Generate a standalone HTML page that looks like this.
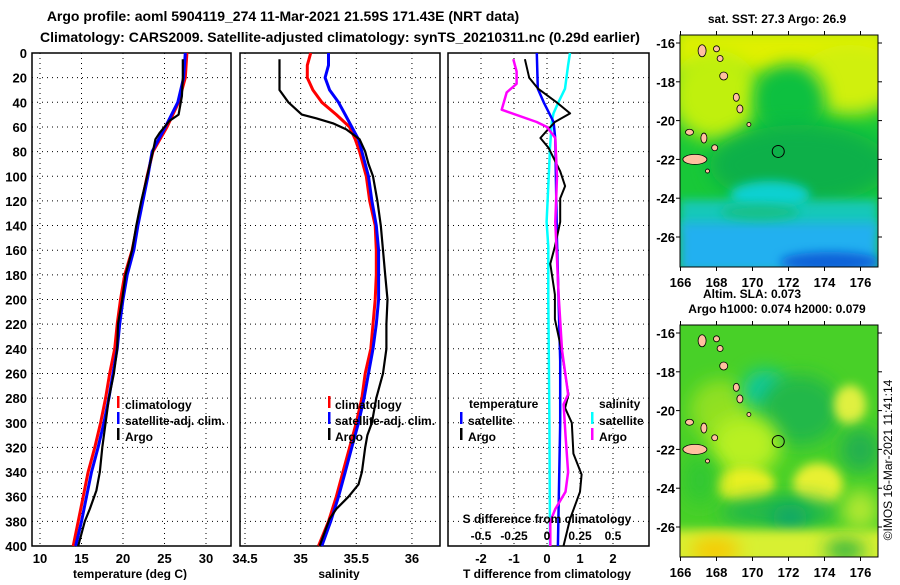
<!DOCTYPE html>
<html><head><meta charset="utf-8"><style>
body{margin:0;background:#fff;width:900px;height:580px;overflow:hidden}
svg text{font-family:"Liberation Sans",sans-serif;font-weight:bold;fill:#000}
</style></head><body>
<svg id="c" width="900" height="580" xmlns="http://www.w3.org/2000/svg">
<defs>
<filter id="bl" x="-50%" y="-50%" width="200%" height="200%"><feGaussianBlur stdDeviation="9"/></filter>
<filter id="bl2" x="-50%" y="-50%" width="200%" height="200%"><feGaussianBlur stdDeviation="5"/></filter>
<clipPath id="m1c"><rect x="680" y="35" width="198" height="232"/></clipPath>
<clipPath id="m2c"><rect x="680" y="325" width="198" height="232"/></clipPath>
</defs>
<text x="283" y="21" font-size="14" text-anchor="middle">Argo profile: aoml 5904119_274 11-Mar-2021 21.59S 171.43E (NRT data)</text>
<text x="340" y="42" font-size="14" text-anchor="middle">Climatology: CARS2009. Satellite-adjusted climatology: synTS_20210311.nc (0.29d earlier)</text>

<g clip-path="url(#m1c)">
<rect x="680" y="35" width="198" height="232" fill="#18c838"/>
<rect x="670" y="25" width="220" height="50" fill="#e0f000" filter="url(#bl)"/>
<ellipse cx="715" cy="95" rx="45" ry="45" fill="#c0f010" filter="url(#bl)"/>
<ellipse cx="850" cy="80" rx="50" ry="35" fill="#d0f010" filter="url(#bl)"/>
<ellipse cx="790" cy="100" rx="35" ry="35" fill="#10c040" filter="url(#bl)"/>
<ellipse cx="800" cy="165" rx="90" ry="40" fill="#10b048" filter="url(#bl)"/>
<rect x="680" y="200" width="198" height="30" fill="#18c8b8" filter="url(#bl2)"/>
<rect x="680" y="222" width="198" height="50" fill="#20b0f0" filter="url(#bl2)"/>
<ellipse cx="770" cy="195" rx="40" ry="14" fill="#10d0d0" filter="url(#bl2)"/>
<ellipse cx="760" cy="212" rx="40" ry="8" fill="#18c088" filter="url(#bl2)"/>
<ellipse cx="830" cy="262" rx="50" ry="10" fill="#1060d8" filter="url(#bl2)"/>
</g>
<g clip-path="url(#m2c)">
<rect x="680" y="325" width="198" height="232" fill="#48d028"/>
<ellipse cx="720" cy="410" rx="30" ry="30" fill="#90e020" filter="url(#bl)"/>
<ellipse cx="765" cy="390" rx="22" ry="20" fill="#10c8a0" filter="url(#bl)"/>
<ellipse cx="800" cy="410" rx="40" ry="35" fill="#20b848" filter="url(#bl)"/>
<ellipse cx="850" cy="405" rx="16" ry="20" fill="#e0f040" filter="url(#bl2)"/>
<ellipse cx="860" cy="450" rx="20" ry="22" fill="#20b050" filter="url(#bl)"/>
<ellipse cx="745" cy="445" rx="35" ry="30" fill="#b8f020" filter="url(#bl)"/>
<ellipse cx="745" cy="485" rx="30" ry="18" fill="#e8f020" filter="url(#bl2)"/>
<ellipse cx="818" cy="485" rx="25" ry="22" fill="#e8f030" filter="url(#bl2)"/>
<ellipse cx="780" cy="512" rx="60" ry="16" fill="#20b848" filter="url(#bl)"/>
<ellipse cx="790" cy="518" rx="18" ry="14" fill="#10a868" filter="url(#bl)"/>
<rect x="670" y="530" width="220" height="35" fill="#d8f030" filter="url(#bl2)"/>
<ellipse cx="715" cy="550" rx="25" ry="12" fill="#f8c800" filter="url(#bl)"/>
<ellipse cx="845" cy="550" rx="20" ry="10" fill="#20b040" filter="url(#bl)"/>
<ellipse cx="700" cy="480" rx="18" ry="25" fill="#30c830" filter="url(#bl)"/>
<ellipse cx="860" cy="510" rx="18" ry="20" fill="#b0e830" filter="url(#bl)"/>
</g>
<g id="maps"></g>
<text x="777" y="23" font-size="12" text-anchor="middle">sat. SST: 27.3 Argo: 26.9</text>
<text x="752" y="298" font-size="12" text-anchor="middle">Altim. SLA: 0.073</text>
<text x="777" y="313" font-size="12" text-anchor="middle">Argo h1000: 0.074 h2000: 0.079</text>
<text transform="translate(892,460) rotate(-90)" font-size="12" style="font-weight:normal" text-anchor="middle">©IMOS 16-Mar-2021 11:41:14</text>
</svg>
<script>
// ---------- data ----------
const yTicks=[0,20,40,60,80,100,120,140,160,180,200,220,240,260,280,300,320,340,360,380,400];
const tTicks=[10,15,20,25,30];
const sTicks=[34.5,35,35.5,36];
const dTicks=[-2,-1,0,1,2];
const dsTicks=[-0.5,-0.25,0,0.25,0.5];
const dsTickLabels=["-0.5","-0.25","0","0.25","0.5"];
const stdDepth=[0,20,40,60,80,100,120,140,160,180,200,220,240,260,280,300,320,340,360,380,400];
const climT=[27.7,27.5,26.7,25.3,23.6,22.9,22.3,21.7,21.1,20.2,19.7,19.3,19.0,18.4,17.9,17.3,16.6,15.8,15.2,14.6,14.0];
const satT=[27.5,27.3,26.6,25.1,23.5,23.0,22.4,21.8,21.3,20.5,20.0,19.6,19.3,18.8,18.3,17.7,17.0,16.2,15.6,15.0,14.3];
const argoTDepth=[5,20,35,50,55,65,70,80,100,120,140,160,180,200,220,240,260,280,300,320,340,355,370,380,400];
const argoT=[27.2,27.2,27.1,26.7,25.6,24.4,23.9,23.6,22.9,22.2,21.6,21.1,20.3,19.9,19.4,19.3,18.9,18.3,17.9,17.5,17.2,16.8,16.0,15.4,14.6];
const sDepth=[0,10,20,30,40,50,60,70,80,100,120,140,160,180,200,220,240,260,280,300,320,340,360,380,400];
const climS=[35.09,35.06,35.06,35.11,35.19,35.32,35.44,35.49,35.53,35.59,35.62,35.67,35.68,35.68,35.67,35.65,35.63,35.58,35.55,35.50,35.44,35.38,35.32,35.25,35.16];
const satS=[35.25,35.25,35.22,35.26,35.34,35.40,35.46,35.52,35.55,35.61,35.64,35.68,35.70,35.70,35.70,35.68,35.65,35.61,35.57,35.52,35.46,35.40,35.34,35.27,35.19];
const argoSDepth=[5,30,40,50,53,57,62,70,80,90,100,120,140,160,180,200,220,240,260,280,300,310,320,340,350,360,370,378,400];
const argoS=[34.81,34.81,34.89,35.01,35.14,35.29,35.41,35.53,35.58,35.61,35.65,35.69,35.72,35.74,35.76,35.78,35.77,35.77,35.74,35.68,35.64,35.60,35.58,35.55,35.52,35.43,35.32,35.26,35.17];
const satDTDepth=[0,29,40,56,70,150,250,300,400];
const satDT=[-0.31,-0.28,-0.1,0.2,0.25,0.3,0.4,0.4,0.33];
const argoDTDepth=[5,20,29,40,49,56,63,69,77,96,108,118,137,157,171,196,216,241,269,277,288,300,325,342,356,378,400];
const argoDT=[-0.67,-0.54,-0.27,0.29,0.7,0.24,0,-0.2,0.05,0.4,0.55,0.4,0.4,0.24,0.1,0.24,0.24,0.44,0.6,0.65,0.55,0.75,0.8,1.05,1.0,0.7,0.5];
const satDSDepth=[0,10,29,40,49,56,77,108,137,157,200,300,400];
const satDS=[0.174,0.16,0.136,0.086,0.049,0.036,0.023,0.01,-0.003,0.01,0.01,0.018,0.023];
const argoDSDepth=[5,15,25,32,46,56,60,69,100,137,196,241,269,277,285,310,340,356,370,380,400];
const argoDS=[-0.255,-0.23,-0.23,-0.305,-0.343,-0.078,0,0.063,0.076,0.063,0.088,0.114,0.15,0.16,0.126,0.14,0.16,0.14,0.063,0.025,0.025];
const lonTicks=[166,168,170,172,174,176];
const latTicks=[-16,-18,-20,-22,-24,-26];
const argoLon=171.43, argoLat=-21.59;
// ---------- helpers ----------
const NS="http://www.w3.org/2000/svg";
const svg=document.getElementById('c');
function mk(tag,attrs,parent){const e=document.createElementNS(NS,tag);for(const k in attrs)e.setAttribute(k,attrs[k]);(parent||svg).appendChild(e);return e;}
const Y0=53,Y1=546;
const yS=d=>Y0+d*(Y1-Y0)/400;
function panel(x0,x1,xs,ticks,labels,name){
  const g=mk('g',{});
  
  
  yTicks.forEach(d=>{if(d>0&&d<400)mk('line',{x1:x0,x2:x1,y1:yS(d),y2:yS(d),stroke:'#000','stroke-dasharray':'1 4','stroke-width':1},g);});
  ticks.forEach((t,i)=>{const x=xs(t);
    if(x>x0+2&&x<x1-2)mk('line',{x1:x,x2:x,y1:Y0,y2:Y1,stroke:'#000','stroke-dasharray':'1 4','stroke-width':1},g);
    if(labels){const tx=mk('text',{x:x,y:563,'font-size':13,'text-anchor':'middle'},g);tx.textContent=labels[i];
      
      }
  });
  mk('rect',{x:x0,y:Y0,width:x1-x0,height:Y1-Y0,fill:'none',stroke:'#000','stroke-width':1.5},g);
  return g;
}
function line(xs,xsArr,dArr,color,w,name){
  const pts=xsArr.map((v,i)=>xs(v).toFixed(1)+','+yS(dArr[i]).toFixed(1)).join(' ');
  const p=mk('polyline',{points:pts,fill:'none',stroke:color,'stroke-width':w,'stroke-linejoin':'round'});
  
  
}
function txt(x,y,s,size,anchor,name){const t=mk('text',{x:x,y:y,'font-size':size,'text-anchor':anchor||'start'});t.textContent=s;
  
  return t;}
function legendMark(x,y,color){const r=mk('rect',{x:x,y:y-10,width:2.5,height:12,fill:color});
  
  }
yTicks.forEach(d=>{txt(27,yS(d)+5,String(d),13,'end','y-tick-label');});
const xT=t=>40+(t-10)*8.3;
panel(32,231,xT,tTicks,tTicks.map(String),'temperature-panel');
line(xT,climT,stdDepth,'#ff0000',3,'temperature-climatology-line');
line(xT,satT,stdDepth,'#0000ff',3,'temperature-satellite-line');
line(xT,argoT,argoTDepth,'#000000',2.2,'temperature-argo-line');
txt(130,578,'temperature (deg C)',12,'middle','temperature-axis-title');
legendMark(117,406,'#ff0000');txt(125,409,'climatology',12,'start','legend-climatology');
legendMark(117,422,'#0000ff');txt(125,425,'satellite-adj. clim.',12,'start','legend-satellite');
legendMark(117,438,'#000');txt(125,441,'Argo',12,'start','legend-argo');
const xS=s=>245+(s-34.5)*111.3;
panel(240,440,xS,sTicks,sTicks.map(String),'salinity-panel');
line(xS,climS,sDepth,'#ff0000',3,'salinity-climatology-line');
line(xS,satS,sDepth,'#0000ff',3,'salinity-satellite-line');
line(xS,argoS,argoSDepth,'#000000',2.2,'salinity-argo-line');
txt(339,578,'salinity',12,'middle','salinity-axis-title');
legendMark(328,406,'#ff0000');txt(335,409,'climatology',12,'start','legend-climatology');
legendMark(328,422,'#0000ff');txt(335,425,'satellite-adj. clim.',12,'start','legend-satellite');
legendMark(328,438,'#000');txt(335,441,'Argo',12,'start','legend-argo');
const xD=t=>547+t*33;
const xDS=s=>547+s*132;
panel(448,649,xD,dTicks,dTicks.map(String),'difference-panel');
line(xDS,satDS,satDSDepth,'#00ffff',2.5,'salinity-satellite-diff-line');
line(xD,satDT,satDTDepth,'#0000ff',2.5,'temperature-satellite-diff-line');
line(xD,argoDT,argoDTDepth,'#000000',2,'temperature-argo-diff-line');
line(xDS,argoDS,argoDSDepth,'#ff00ff',2.5,'salinity-argo-diff-line');
txt(547,578,'T difference from climatology',12,'middle','t-diff-axis-title');
txt(547,523,'S difference from climatology',12,'middle','s-diff-axis-title');
dsTicks.forEach((s,i)=>txt(xDS(s),540,dsTickLabels[i],12,'middle','s-diff-tick-label'));
txt(469,408,'temperature',12,'start','legend-temperature-heading');
legendMark(460,422,'#0000ff');txt(468,425,'satellite',12,'start','legend-t-satellite');
legendMark(460,438,'#000');txt(468,441,'Argo',12,'start','legend-t-argo');
txt(599,408,'salinity',12,'start','legend-salinity-heading');
legendMark(591,422,'#00ffff');txt(599,425,'satellite',12,'start','legend-s-satellite');
legendMark(591,438,'#ff00ff');txt(599,441,'Argo',12,'start','legend-s-argo');
const islands=[[167.2,-16.4,4,6],[168.0,-16.3,3,3],[168.2,-16.8,3,3],[168.4,-17.7,4,4],[169.1,-18.8,3,4],[169.3,-19.4,3,4],[169.8,-20.2,2,2],[166.5,-20.6,4,3],[167.3,-20.9,3,5],[167.9,-21.4,3,3],[166.8,-22.0,12,5],[167.5,-22.6,2,2]];
function map(top,name){
  const lx=l=>680.5+(l-166)*18, ly=l=>top+8+(-16-l)*19.4;
  const g=mk('g',{});
  
  
  islands.forEach(is=>{mk('ellipse',{cx:lx(is[0]),cy:ly(is[1]),rx:is[2],ry:is[3],fill:'#ffc0a0',stroke:'#000','stroke-width':0.8},g);});
  const c=mk('circle',{cx:lx(argoLon),cy:ly(argoLat),r:6,fill:'none',stroke:'#000','stroke-width':1},g);
  
  
  mk('rect',{x:680,y:top,width:198,height:232,fill:'none',stroke:'#000','stroke-width':1},g);
  lonTicks.forEach(l=>{mk('line',{x1:lx(l),x2:lx(l),y1:top+232,y2:top+236,stroke:'#000'},g);
    mk('line',{x1:lx(l),x2:lx(l),y1:top,y2:top-4,stroke:'#000'},g);
    txt(lx(l),top+252,String(l),13,'middle','lon-tick-label');});
  latTicks.forEach(l=>{mk('line',{x1:676,x2:680,y1:ly(l),y2:ly(l),stroke:'#000'},g);
    mk('line',{x1:878,x2:882,y1:ly(l),y2:ly(l),stroke:'#000'},g);
    txt(675,ly(l)+5,String(l),13,'end','lat-tick-label');});
}
map(35,'sst-map-frame');
map(325,'sla-map-frame');
</script>
</body></html>
